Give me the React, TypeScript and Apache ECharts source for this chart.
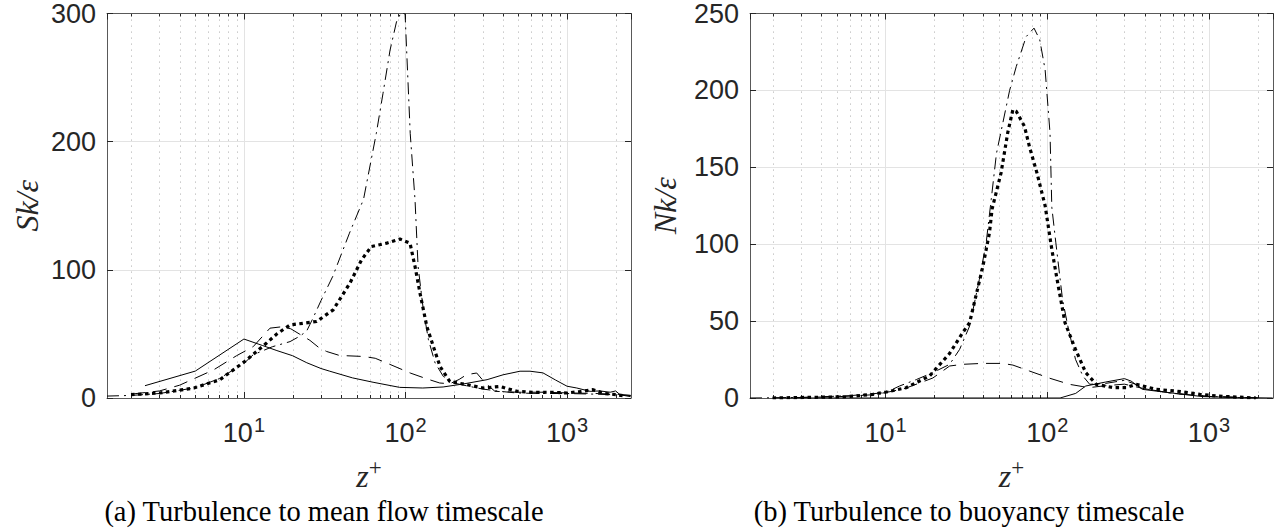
import React, { useEffect, useRef } from 'react';
import * as echarts from 'echarts';

// ---------- data ----------
// Panel (a): S k / epsilon versus z+
const skSolid: [number, number][] = [
  [2.44, 9.6], [5, 21], [10, 46], [13, 41], [16, 37], [20, 33], [24.5, 27.5], [30, 23], [34, 20.9],
  [47, 15.7], [63, 12.3], [92, 8.3], [128, 7.8], [171, 8.6], [227, 10.9], [320, 14.3], [402, 18.1],
  [512, 20.9], [590, 20.9], [710, 19.6], [850, 14], [1000, 9.2], [1150, 7.8], [1390, 5.2], [1600, 5.5],
  [1850, 4.5], [2000, 5.5], [2130, 2.6], [2480, 1],
];
const skDashed: [number, number][] = [
  [2, 3], [3, 5.5], [4, 10], [6.5, 22], [9, 33], [11.4, 40], [14.5, 54.5], [17, 55.5], [19.5, 54],
  [22, 50], [25.6, 45], [29, 39.5], [32.5, 36.3], [39, 33.2], [55, 32.4], [65, 31], [76.5, 27.3],
  [107, 19.5], [135, 15], [163, 11.7], [188, 11.1], [215, 14.5], [239, 18.2], [276, 19.5], [310, 12],
  [358, 5.2], [500, 4.5], [700, 4.5], [1000, 4], [1500, 3.5], [2000, 3], [2480, 2],
];
const skDashDot: [number, number][] = [
  [1.42, 1.5], [2, 2], [3, 3.5], [5, 8], [7, 15], [10, 27], [11.4, 33.7], [15, 40], [19.3, 44],
  [22, 48], [24.4, 52], [26.7, 62], [30, 76], [35.5, 95], [45, 128.6], [55, 155], [66, 206.5],
  [72.6, 237.7], [80.3, 271.5], [88, 293.5], [95, 302], [99.5, 299], [107, 206.5], [114.6, 154.6],
  [119.7, 102.6], [129, 68.8], [138.8, 45.4], [152.6, 27.3], [171.6, 16.8], [198.7, 11.7], [250, 9],
  [300, 7], [385, 5.2], [489, 3.9], [700, 3.5], [1000, 3.5], [1500, 3], [2000, 2.5], [2480, 2],
];
const skDotted: [number, number][] = [
  [2, 2.6], [3, 3.9], [4.9, 7.8], [7.1, 14.3], [10, 28], [13.8, 42.9], [16, 50], [19.3, 57],
  [25.6, 59], [28.2, 59.7], [35.7, 68.8], [45.3, 89.6], [53.5, 107.8], [61.5, 118.2], [76.5, 120.8],
  [92.5, 124], [106.7, 120.8], [114.6, 102.6], [123, 81.8], [135.6, 55.8], [148.8, 40.2],
  [163.7, 24.6], [188, 12.9], [239, 10.4], [303, 7.8], [385, 9], [489, 5.2], [619, 4.4], [800, 4.5],
  [995, 3.9], [1200, 5], [1450, 6.5], [1700, 3.5], [2030, 2.6], [2300, 1.5],
];

// Panel (b): N k / epsilon versus z+
const nkSolid: [number, number][] = [
  [2.44, 0], [20, 0], [120, 0], [150, 3], [173, 7.8], [230, 10.4], [300, 12.6], [330, 11], [388, 5.6],
  [472, 4.5], [690, 2.4], [915, 0.9], [1500, 0.3], [2480, 0],
];
const nkDashed: [number, number][] = [
  [2, 0], [5, 0.8], [8, 2], [10, 3.5], [13, 6], [16, 9.5], [19.6, 13], [24.9, 20.8], [30, 21.9],
  [39.8, 22.5], [53, 22.5], [61.3, 21.4], [77.8, 17.5], [104, 12.8], [137, 8.9], [166, 7.4],
  [183, 6.8], [230, 8], [300, 9], [400, 6], [600, 3], [1000, 1], [2000, 0],
];
const nkDashDot: [number, number][] = [
  [1.45, 0], [3, 0.3], [6, 1.5], [10, 3.5], [12.2, 7.8], [15.5, 12], [19.6, 16.5], [24.9, 21.9],
  [28.7, 31.6], [33.1, 46.8], [38, 77], [41.9, 101], [45, 129], [48.5, 159], [58.5, 200],
  [64.3, 215.5], [74.1, 235], [82.8, 240.5], [89.8, 233], [97, 213.4], [104, 172.3], [106.7, 124],
  [113, 100.9], [124.3, 64], [134, 46.8], [149.5, 25.1], [166, 14.3], [183, 8.9], [230, 9.5],
  [300, 11.5], [350, 9], [400, 6], [600, 3], [1000, 1], [2000, 0],
];
const nkDotted: [number, number][] = [
  [2, 0], [5.7, 0.8], [8.35, 2.4], [10.1, 3.9], [13.4, 6.7], [18.7, 14.3], [24.9, 29], [30, 42.5],
  [33.1, 49], [34.6, 57.6], [40, 85.7], [43.9, 107.4], [45.6, 123], [51.8, 146.4], [56.9, 172.3],
  [61.3, 187.5], [64.3, 186.4], [72.3, 176.6], [77.5, 163.6], [86.3, 146.4], [97, 125],
  [106.7, 96.6], [117, 72.7], [128.7, 49], [149.5, 31.6], [173, 16.5], [201, 8.9], [254, 6.8],
  [308, 6.8], [354, 8.9], [472, 5.6], [629, 4.5], [880, 2.4], [1108, 1.3], [1950, 0],
];

// axes
const skTicks = [0, 100, 200, 300];
const nkTicks = [0, 50, 100, 150, 200, 250];
const zRangeA = [1.42, 2490];
const zRangeB = [1.45, 2490];
const minorZ = [2, 3, 4, 5, 6, 7, 8, 9, 20, 30, 40, 50, 60, 70, 80, 90, 200, 300, 400, 500, 600, 700, 800, 900, 2000];
const yNames = ['Sk/ε', 'Nk/ε'];
const captions = ['(a) Turbulence to mean flow timescale', '(b) Turbulence to buoyancy timescale'];

// ---------- styles ----------
const INK = '#262626';
const AXIS_LINE = '#595959';
const GRID_MAJOR = '#e3e3e3';
const GRID_MINOR = '#b8b8b8';
const SANS = "'Liberation Sans', Arial, Helvetica, sans-serif";
const SERIF = "'Liberation Serif', 'Times New Roman', serif";

const expLabel = (v: number) => `{b|10}{e|${Math.round(Math.log10(v))}}`;

function xAxes(gridIndex: number, range: number[]) {
  const common = { type: 'log', logBase: 10, min: range[0], max: range[1], gridIndex };
  return [
    {
      ...common,
      position: 'bottom',
      axisLine: { show: true, onZero: false, lineStyle: { color: AXIS_LINE, width: 1 } },
      axisTick: { show: true, inside: true, length: 6, lineStyle: { color: INK, width: 1 } },
      axisLabel: {
        show: true,
        showMinLabel: false,
        showMaxLabel: false,
        margin: 17,
        formatter: expLabel,
        rich: {
          b: { fontSize: 27, lineHeight: 27, fontFamily: SANS, color: INK, padding: [8, 0, 0, 0] },
          e: { fontSize: 20, lineHeight: 20, fontFamily: SANS, color: INK, verticalAlign: 'top', padding: [0, 0, 0, 1] },
        },
      },
      splitLine: { show: true, lineStyle: { color: GRID_MAJOR, width: 1 } },
      minorTick: { show: false },
      name: '{i|z}{s|+}',
      nameLocation: 'middle',
      nameGap: 58,
      nameTextStyle: {
        rich: {
          i: { fontSize: 32, lineHeight: 32, fontFamily: SERIF, fontStyle: 'italic', color: INK, padding: [7, 0, 0, 0] },
          s: { fontSize: 23, lineHeight: 23, fontFamily: SERIF, color: INK, verticalAlign: 'top' },
        },
      },
    },
    {
      ...common,
      position: 'top',
      axisLine: { show: true, onZero: false, lineStyle: { color: AXIS_LINE, width: 1 } },
      axisTick: { show: true, inside: true, length: 6, lineStyle: { color: INK, width: 1 } },
      axisLabel: { show: false },
      splitLine: { show: false },
    },
  ];
}

function yAxes(gridIndex: number, ticks: number[], name: string, nameGap: number) {
  const common = {
    type: 'value',
    gridIndex,
    min: ticks[0],
    max: ticks[ticks.length - 1],
    interval: ticks[1] - ticks[0],
  };
  return [
    {
      ...common,
      position: 'left',
      axisLine: { show: true, lineStyle: { color: AXIS_LINE, width: 1 } },
      axisTick: { show: true, inside: true, length: 6, lineStyle: { color: INK, width: 1 } },
      axisLabel: { show: true, fontSize: 27, fontFamily: SANS, color: INK, margin: 11 },
      splitLine: { show: true, lineStyle: { color: GRID_MAJOR, width: 1 } },
      name,
      nameLocation: 'middle',
      nameGap,
      nameTextStyle: { fontSize: 32, fontFamily: SERIF, fontStyle: 'italic', color: INK },
    },
    {
      ...common,
      position: 'right',
      axisLine: { show: true, lineStyle: { color: AXIS_LINE, width: 1 } },
      axisTick: { show: true, inside: true, length: 6, lineStyle: { color: INK, width: 1 } },
      axisLabel: { show: false },
      splitLine: { show: false },
    },
  ];
}

function minorSeries(xAxisIndex: number, yAxisIndex: number, yMax: number) {
  return {
    type: 'custom',
    xAxisIndex,
    yAxisIndex,
    silent: true,
    z: 1,
    clip: false,
    data: minorZ.map((v) => [v, 0]),
    encode: { x: 0, y: 1 },
    renderItem: (_params: any, api: any) => {
      const v = api.value(0);
      const top = api.coord([v, yMax]);
      const bot = api.coord([v, 0]);
      const x = Math.round(top[0]) + 0.5;
      return {
        type: 'group',
        children: [
          {
            type: 'line',
            shape: { x1: x, y1: top[1], x2: x, y2: bot[1] },
            style: { stroke: GRID_MINOR, lineWidth: 1, lineDash: [1.2, 4.8] },
          },
          { type: 'line', shape: { x1: x, y1: top[1], x2: x, y2: top[1] + 3 }, style: { stroke: INK, lineWidth: 1 } },
          { type: 'line', shape: { x1: x, y1: bot[1], x2: x, y2: bot[1] - 3 }, style: { stroke: INK, lineWidth: 1 } },
        ],
      };
    },
  };
}

const SOLID = { color: '#000', width: 1, type: 'solid' };
const DASHED = { color: '#000', width: 1, type: [14, 8] };
const DASHDOT = { color: '#000', width: 1, type: [12, 5, 2, 5] };
const DOTTED = { color: '#000', width: 3.2, type: [3.5, 3.5], cap: 'butt' };

function lineSeries(data: [number, number][], xAxisIndex: number, yAxisIndex: number, lineStyle: any, z: number) {
  return {
    type: 'line',
    xAxisIndex,
    yAxisIndex,
    data,
    symbol: 'none',
    showSymbol: false,
    silent: true,
    z,
    lineStyle,
    emphasis: { disabled: true },
  };
}

const option: any = {
  animation: false,
  backgroundColor: '#ffffff',
  grid: [
    { left: 107, top: 13, width: 524, height: 385 },
    { left: 750, top: 13, width: 523, height: 385 },
  ],
  xAxis: [...xAxes(0, zRangeA), ...xAxes(1, zRangeB)],
  yAxis: [...yAxes(0, skTicks, yNames[0], 64), ...yAxes(1, nkTicks, yNames[1], 69)],
  series: [
    minorSeries(0, 0, skTicks[skTicks.length - 1]),
    minorSeries(2, 2, nkTicks[nkTicks.length - 1]),
    lineSeries(skSolid, 0, 0, SOLID, 3),
    lineSeries(skDashed, 0, 0, DASHED, 3),
    lineSeries(skDashDot, 0, 0, DASHDOT, 3),
    lineSeries(skDotted, 0, 0, DOTTED, 4),
    lineSeries(nkSolid, 2, 2, SOLID, 3),
    lineSeries(nkDashed, 2, 2, DASHED, 3),
    lineSeries(nkDashDot, 2, 2, DASHDOT, 3),
    lineSeries(nkDotted, 2, 2, DOTTED, 4),
  ],
  graphic: [
    {
      type: 'text',
      x: 324,
      y: 511,
      style: { text: captions[0], font: `28.5px ${SERIF}`, fill: '#000', align: 'center', verticalAlign: 'middle' },
    },
    {
      type: 'text',
      x: 969,
      y: 511,
      style: { text: captions[1], font: `28.5px ${SERIF}`, fill: '#000', align: 'center', verticalAlign: 'middle' },
    },
  ],
};

export default function App() {
  const ref = useRef<HTMLDivElement>(null);
  useEffect(() => {
    const chart = echarts.init(ref.current!, null, { renderer: 'svg' });
    chart.setOption(option);
    return () => chart.dispose();
  }, []);
  return (
    <div
      ref={ref}
      style={{ position: 'fixed', left: 0, top: 0, width: 1285, height: 531, background: '#fff' }}
    />
  );
}
